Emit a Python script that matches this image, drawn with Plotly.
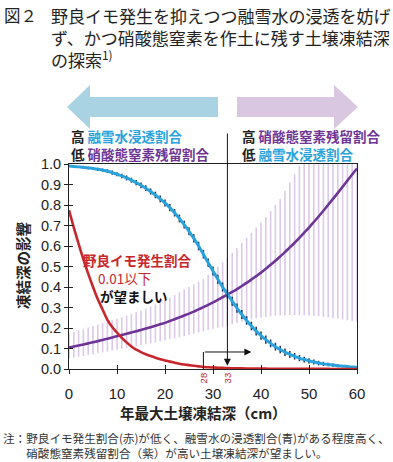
import plotly.graph_objects as go

# ---------------- data ----------------
depth_cm = list(range(0, 61))

blue_infiltration = [0.990,0.988,0.986,0.984,0.981,0.978,0.974,0.970,0.965,0.958,
                     0.950,0.942,0.932,0.921,0.909,0.896,0.882,0.866,0.849,0.830,
                     0.810,0.787,0.762,0.734,0.704,0.672,0.637,0.600,0.560,0.518,
                     0.478,0.438,0.400,0.366,0.331,0.297,0.266,0.237,0.210,0.185,
                     0.163,0.143,0.125,0.109,0.095,0.082,0.071,0.062,0.053,0.046,
                     0.040,0.034,0.029,0.025,0.022,0.019,0.016,0.014,0.012,0.010,0.009]

blue_err = [0.004,0.005,0.005,0.006,0.006,0.007,0.008,0.008,0.009,0.010,
            0.010,0.011,0.012,0.012,0.013,0.014,0.014,0.015,0.016,0.016,
            0.017,0.018,0.018,0.019,0.019,0.020,0.020,0.021,0.021,0.021,
            0.022,0.022,0.022,0.022,0.022,0.022,0.022,0.021,0.021,0.021,
            0.020,0.020,0.019,0.019,0.018,0.018,0.017,0.016,0.015,0.014,
            0.013,0.012,0.011,0.010,0.009,0.008,0.007,0.006,0.005,0.004,0.003]

purple_nitrate = [0.105,0.110,0.115,0.120,0.125,0.130,0.136,0.142,0.148,0.154,
                  0.160,0.166,0.172,0.178,0.184,0.190,0.197,0.204,0.211,0.218,
                  0.225,0.234,0.243,0.252,0.261,0.270,0.280,0.291,0.302,0.313,
                  0.325,0.337,0.350,0.363,0.376,0.390,0.405,0.420,0.436,0.453,
                  0.470,0.489,0.508,0.528,0.549,0.570,0.593,0.616,0.640,0.665,
                  0.690,0.717,0.744,0.772,0.801,0.830,0.859,0.889,0.919,0.949,0.978]

purple_upper = [0.175,0.182,0.189,0.196,0.203,0.210,0.217,0.224,0.231,0.238,
                0.245,0.253,0.261,0.269,0.277,0.285,0.295,0.305,0.315,0.325,
                0.335,0.348,0.361,0.374,0.387,0.400,0.413,0.426,0.440,0.460,
                0.480,0.500,0.520,0.543,0.566,0.590,0.615,0.640,0.665,0.690,
                0.715,0.742,0.770,0.800,0.830,0.870,0.910,0.950,0.990,1.000,
                1.000,1.000,1.000,1.000,1.000,1.000,1.000,1.000,1.000,1.000,1.000]

purple_lower = [0.050,0.055,0.059,0.063,0.068,0.072,0.077,0.081,0.085,0.090,
                0.094,0.099,0.103,0.108,0.112,0.117,0.121,0.126,0.130,0.135,
                0.140,0.145,0.150,0.155,0.160,0.166,0.172,0.178,0.184,0.190,
                0.196,0.201,0.206,0.212,0.218,0.224,0.230,0.236,0.242,0.247,
                0.251,0.254,0.257,0.259,0.261,0.262,0.263,0.263,0.263,0.262,
                0.261,0.259,0.257,0.255,0.252,0.249,0.246,0.242,0.238,0.234,0.230]

red_volunteer = [0.775,0.690,0.610,0.535,0.465,0.400,0.340,0.290,0.240,0.205,
                 0.178,0.152,0.130,0.110,0.094,0.082,0.072,0.063,0.055,0.048,
                 0.042,0.036,0.031,0.026,0.022,0.019,0.016,0.013,0.010,0.0085,
                 0.0072,0.0062,0.0053,0.0046,0.0040,0.0035,0.0030,0.0026,0.0023,0.0020,
                 0.0018,0.0016,0.0014,0.0012,0.0011,0.0010,0.0009,0.0008,0.0007,0.0006,
                 0.0005,0.0005,0.0004,0.0004,0.0004,0.0003,0.0003,0.0003,0.0002,0.0002,0.0002]

x_ticks = [0, 10, 20, 30, 40, 50, 60]
threshold_depth = 28
optimum_depth = 33

# ---------------- layout helpers (pixel -> paper) ----------------
W, H = 393, 462
PL, PR, PT, PB = 69, 357, 164, 369
def fx(p):
    return (p - PL) / (PR - PL)
def fy(p):
    return (PB - p) / (PB - PT)

CJK = "Noto Sans CJK JP"
BLUE = "#2aa3dc"
NAVY = "#1e2b5a"
PURPLE = "#6e3596"
LAV = "#dbc9e7"
RED = "#c8262d"
INK = "#222222"

fig = go.Figure()

# purple error bars (behind)
fig.add_trace(go.Scatter(
    x=depth_cm, y=purple_nitrate, mode="markers",
    marker=dict(size=1, color="rgba(0,0,0,0)"),
    error_y=dict(type="data", symmetric=False,
                 array=[u - m for u, m in zip(purple_upper, purple_nitrate)],
                 arrayminus=[m - l for m, l in zip(purple_nitrate, purple_lower)],
                 color=LAV, thickness=1.6, width=0),
    hoverinfo="skip", showlegend=False))
fig.add_trace(go.Scatter(x=depth_cm, y=purple_nitrate, mode="lines",
                         line=dict(color=PURPLE, width=2.6, shape="spline"),
                         showlegend=False))
# blue error bars + line
fig.add_trace(go.Scatter(
    x=depth_cm, y=blue_infiltration, mode="markers",
    marker=dict(size=1, color="rgba(0,0,0,0)"),
    error_y=dict(type="data", array=blue_err, color=NAVY, thickness=1.5, width=0),
    hoverinfo="skip", showlegend=False))
fig.add_trace(go.Scatter(x=depth_cm, y=blue_infiltration, mode="lines",
                         line=dict(color=BLUE, width=3, shape="spline"),
                         showlegend=False))
# red line
fig.add_trace(go.Scatter(x=depth_cm, y=red_volunteer, mode="lines",
                         line=dict(color=RED, width=2.6, shape="spline"),
                         showlegend=False))
# dummy trace for inner-tick overlay axes
fig.add_trace(go.Scatter(x=[None], y=[None], xaxis="x2", yaxis="y2",
                         showlegend=False, hoverinfo="skip"))

axis_common = dict(showgrid=False, zeroline=False)
fig.update_layout(
    width=W, height=H,
    margin=dict(l=PL, r=W - PR, t=PT, b=H - PB, pad=0),
    paper_bgcolor="white", plot_bgcolor="white",
    showlegend=False,
    xaxis=dict(range=[0, 60], tickvals=x_ticks, ticks="outside", ticklen=4,
               tickcolor=INK, tickwidth=1, showline=True, linecolor=INK,
               linewidth=1, mirror=True, ticklabelstandoff=7,
               tickfont=dict(family="Liberation Sans", size=15, color=INK),
               **axis_common),
    yaxis=dict(range=[0, 1], dtick=0.1, tickformat=".1f", ticks="outside",
               ticklen=4, tickcolor=INK, tickwidth=1, showline=True,
               linecolor=INK, linewidth=1, mirror=True,
               tickfont=dict(family="Liberation Sans", size=14.5, color=INK),
               **axis_common),
    xaxis2=dict(range=[0, 60], tickvals=x_ticks, ticks="inside", ticklen=4,
                tickcolor=INK, showticklabels=False, overlaying="x",
                anchor="y", side="bottom", showline=False, **axis_common),
    yaxis2=dict(range=[0, 1], dtick=0.1, ticks="inside", ticklen=4,
                tickcolor=INK, showticklabels=False, overlaying="y",
                anchor="x", side="left", showline=False, **axis_common),
)

# big direction arrows
left_arrow = (f"M {fx(67)},{fy(107)} L {fx(90)},{fy(85)} L {fx(90)},{fy(97)} "
              f"L {fx(218)},{fy(97)} L {fx(218)},{fy(117)} L {fx(90)},{fy(117)} "
              f"L {fx(90)},{fy(129)} Z")
right_arrow = (f"M {fx(237)},{fy(97)} L {fx(334)},{fy(97)} L {fx(334)},{fy(85)} "
               f"L {fx(358)},{fy(107)} L {fx(334)},{fy(129)} L {fx(334)},{fy(117)} "
               f"L {fx(237)},{fy(117)} Z")
fig.add_shape(type="path", path=left_arrow, xref="paper", yref="paper",
              fillcolor="#a9d3e3", line=dict(width=0))
fig.add_shape(type="path", path=right_arrow, xref="paper", yref="paper",
              fillcolor="#d9c7e1", line=dict(width=0))

# vertical segment at 28 cm
fig.add_shape(type="line", x0=threshold_depth, x1=threshold_depth, y0=0, y1=0.083,
              xref="x", yref="y", line=dict(color="#111", width=1))

annotations = []
def txt(px_, py_, text, size, color=INK, anchor="left", angle=0,
        family=CJK, yanchor="middle"):
    annotations.append(dict(
        x=fx(px_), y=fy(py_), xref="paper", yref="paper", text=text,
        showarrow=False, xanchor=anchor, yanchor=yanchor, textangle=angle,
        align="left", font=dict(family=family, size=size, color=color)))

# title
txt(2, 1, "図２", 16.5, yanchor="top")
txt(49, 1, "野良イモ発生を抑えつつ融雪水の浸透を妨げ<br>"
           "ず、かつ硝酸態窒素を作土に残す土壌凍結深<br>"
           "の探索<sup>1)</sup>", 17, yanchor="top")

# labels below arrows
def lab(word, color):
    return f"<span style='color:{color}'><b>{word}</b></span>"
txt(69, 145.5, "<b>高</b> " + lab("融雪水浸透割合", BLUE) + "<br>"
               "<b>低</b> " + lab("硝酸態窒素残留割合", PURPLE), 13.5)
txt(240, 145.5, "<b>高</b> " + lab("硝酸態窒素残留割合", PURPLE) + "<br>"
                "<b>低</b> " + lab("融雪水浸透割合", BLUE), 13.5)

# in-plot annotation
txt(137, 260, "<b>野良イモ発生割合</b>", 13.5, color=RED, anchor="center")
txt(124, 278, "0.01以下", 13.5, color=RED, anchor="center")
txt(134, 296, "<b>が望ましい</b>", 13.5, color="#111", anchor="center")

# axis titles
txt(22, 266, "<b>凍結深の影響</b>", 14.5, anchor="center", angle=-90)
txt(203, 412, "<b>年最大土壌凍結深（cm）</b>", 14.5, anchor="center")

# red depth marks
for d in (threshold_depth, optimum_depth):
    annotations.append(dict(x=d, y=fy(378), xref="x", yref="paper",
                            text=str(d), showarrow=False, textangle=-90,
                            xanchor="center", yanchor="middle",
                            font=dict(family="Liberation Sans", size=9.5, color=RED)))

# note
txt(1, 445, "注：野良イモ発生割合(赤)が低く、融雪水の浸透割合(青)がある程度高く、<br>"
            "　　硝酸態窒素残留割合（紫）が高い土壌凍結深が望ましい。", 11.6,
    color="#333")

# arrows
annotations.append(dict(x=optimum_depth, y=0.016, xref="x", yref="y",
                        ax=optimum_depth, ay=fy(132), axref="x", ayref="y",
                        text="", showarrow=True, arrowhead=2, arrowsize=1.4,
                        arrowwidth=1, arrowcolor="#111", standoff=0))
annotations.append(dict(x=38, y=0.083, xref="x", yref="y",
                        ax=threshold_depth, ay=0.083, axref="x", ayref="y",
                        text="", showarrow=True, arrowhead=2, arrowsize=1.4,
                        arrowwidth=1, arrowcolor="#111", standoff=0))

fig.update_layout(annotations=annotations)
fig.write_html("out.html",
               config={"displayModeBar": False},
               post_script="document.body.style.margin='0';document.body.style.overflow='hidden';")
